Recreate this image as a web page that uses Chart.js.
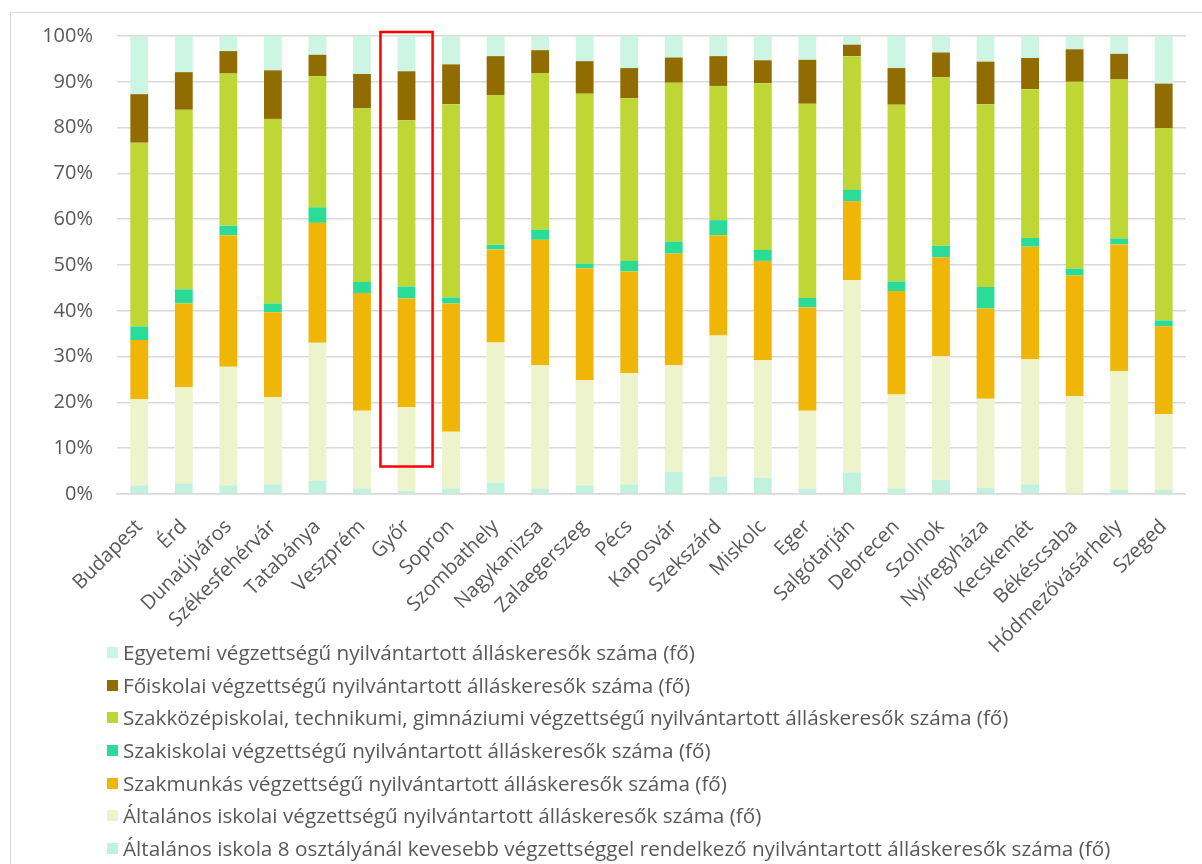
<!DOCTYPE html>
<html>
<head>
<meta charset="utf-8">
<script src="https://cdn.jsdelivr.net/npm/chart.js@4/dist/chart.umd.min.js"></script>
<style>
  html, body { margin: 0; padding: 0; background: #fff; overflow: hidden; }
  #wrap { position: relative; width: 1202px; height: 864px; }
  #frame { position: absolute; left: 10px; top: 12px; width: 1300px; height: 1000px; border-left: 1.5px solid #d9d9d9; border-top: 1.5px solid #d9d9d9; }
  #c { position: absolute; left: 0; top: 0; }
  #legend { position: absolute; left: 107px; top: 636px; font-family: "Open Sans", sans-serif; font-size: 20.7px; color: #595959; }
  .li { height: 32.7px; line-height: 32.7px; white-space: nowrap; display: flex; align-items: center; }
  .sw { width: 11px; height: 11px; margin-right: 5px; flex: none; }
</style>
</head>
<body>
<div id="wrap">
  <div id="frame"></div>
  <canvas id="c" width="1202" height="864"></canvas>
  <div id="legend"></div>
</div>
<script>
const cities = ['Budapest','Érd','Dunaújváros','Székesfehérvár','Tatabánya','Veszprém','Győr','Sopron','Szombathely','Nagykanizsa','Zalaegerszeg','Pécs','Kaposvár','Szekszárd','Miskolc','Eger','Salgótarján','Debrecen','Szolnok','Nyíregyháza','Kecskemét','Békéscsaba','Hódmezővásárhely','Szeged'];

const seriesNames = [
  'Általános iskola 8 osztályánál kevesebb végzettséggel rendelkező nyilvántartott álláskeresők száma (fő)',
  'Általános iskolai végzettségű nyilvántartott álláskeresők száma (fő)',
  'Szakmunkás végzettségű nyilvántartott álláskeresők száma (fő)',
  'Szakiskolai végzettségű nyilvántartott álláskeresők száma (fő)',
  'Szakközépiskolai, technikumi, gimnáziumi végzettségű nyilvántartott álláskeresők száma (fő)',
  'Főiskolai végzettségű nyilvántartott álláskeresők száma (fő)',
  'Egyetemi végzettségű nyilvántartott álláskeresők száma (fő)'
];

const kevesebb8 = [1.9,2.3,1.9,2.1,2.9,1.2,0.7,1.2,2.5,1.2,1.9,2.1,4.8,3.8,3.6,1.2,4.7,1.2,3.1,1.3,2.1,0.1,0.9,0.9];
const altalanos = [18.8,21.0,25.9,19.1,30.1,17.0,18.3,12.4,30.6,26.9,23.0,24.3,23.3,30.8,25.6,17.0,42.0,20.5,27.0,19.5,27.3,21.3,25.9,16.5];
const szakmunkas = [12.9,18.3,28.7,18.5,26.2,25.7,23.7,28.0,20.3,27.4,24.4,22.2,24.4,21.9,21.7,22.6,17.2,22.6,21.6,19.7,24.6,26.3,27.7,19.2];
const szakiskolai = [3.0,3.1,2.1,1.9,3.4,2.4,2.6,1.3,1.0,2.2,1.0,2.3,2.6,3.3,2.4,2.0,2.5,2.1,2.5,4.7,1.9,1.5,1.3,1.3];
const szakkozep = [40.1,39.2,33.2,40.3,28.6,37.9,36.3,42.2,32.7,34.2,37.1,35.5,34.7,29.3,36.4,42.4,29.2,38.6,36.8,39.9,32.5,40.8,34.7,42.0];
const foiskolai = [10.6,8.2,4.9,10.6,4.7,7.5,10.7,8.7,8.5,5.0,7.1,6.6,5.5,6.5,5.0,9.6,2.5,8.0,5.4,9.3,6.8,7.1,5.6,9.7];
const egyetemi = [12.7,7.9,3.3,7.5,4.1,8.3,7.7,6.2,4.4,3.1,5.5,7.0,4.7,4.4,5.3,5.2,1.9,7.0,3.6,5.6,4.8,2.9,3.9,10.4];

const yTicks = [0,10,20,30,40,50,60,70,80,90,100];
const highlightCity = 'Győr';

const seriesValues = [kevesebb8, altalanos, szakmunkas, szakiskolai, szakkozep, foiskolai, egyetemi];
const seriesColors = ['#c1f2df','#edf3cb','#f0b607','#2bdc98','#bed735','#916c00','#ccf5e4'];

const datasets = seriesValues.map((vals, i) => ({
  label: seriesNames[i],
  data: vals,
  backgroundColor: seriesColors[i],
  borderWidth: 0,
  barPercentage: 0.8,
  categoryPercentage: 0.5
}));

const highlightPlugin = {
  id: 'highlight',
  afterDatasetsDraw(chart) {
    const xs = chart.scales.x, ys = chart.scales.y;
    const idx = cities.indexOf(highlightCity);
    const cx = xs.getPixelForValue(idx);
    const half = xs.width / cities.length * 0.585;
    const top = ys.getPixelForValue(100) - 4;
    const bottom = ys.getPixelForValue(6);
    const ctx = chart.ctx;
    ctx.save();
    ctx.strokeStyle = '#ff0000';
    ctx.lineWidth = 2.5;
    ctx.strokeRect(cx - half, top, half * 2, bottom - top);
    ctx.restore();
  }
};

new Chart(document.getElementById('c'), {
  type: 'bar',
  data: { labels: cities, datasets },
  plugins: [highlightPlugin],
  options: {
    responsive: false,
    animation: false,
    layout: { padding: { left: 10, top: 29, right: 16, bottom: 0 } },
    plugins: { legend: { display: false }, tooltip: { enabled: false } },
    scales: {
      x: {
        stacked: true,
        grid: { display: false, drawTicks: false },
        border: { color: '#d9d9d9', width: 1.5 },
        ticks: {
          autoSkip: false, maxRotation: 45, minRotation: 45, padding: 21,
          color: '#595959', font: { family: 'Open Sans', size: 20 }
        },
        afterFit(s) { s.height = 370; }
      },
      y: {
        stacked: true, min: 0, max: 100,
        afterBuildTicks(s) { s.ticks = yTicks.map(v => ({ value: v })); },
        grid: { color: '#d9d9d9', lineWidth: 1.5, drawTicks: false },
        border: { display: false },
        ticks: {
          padding: 24, color: '#595959', font: { family: 'Open Sans', size: 20 },
          callback: v => v + '%'
        },
        afterFit(s) { s.width = 107; }
      }
    }
  }
});

const legend = document.getElementById('legend');
for (let i = seriesNames.length - 1; i >= 0; i--) {
  const row = document.createElement('div');
  row.className = 'li';
  const sw = document.createElement('span');
  sw.className = 'sw';
  sw.style.background = seriesColors[i];
  const tx = document.createElement('span');
  tx.textContent = seriesNames[i];
  row.appendChild(sw); row.appendChild(tx);
  legend.appendChild(row);
}
</script>
</body>
</html>
